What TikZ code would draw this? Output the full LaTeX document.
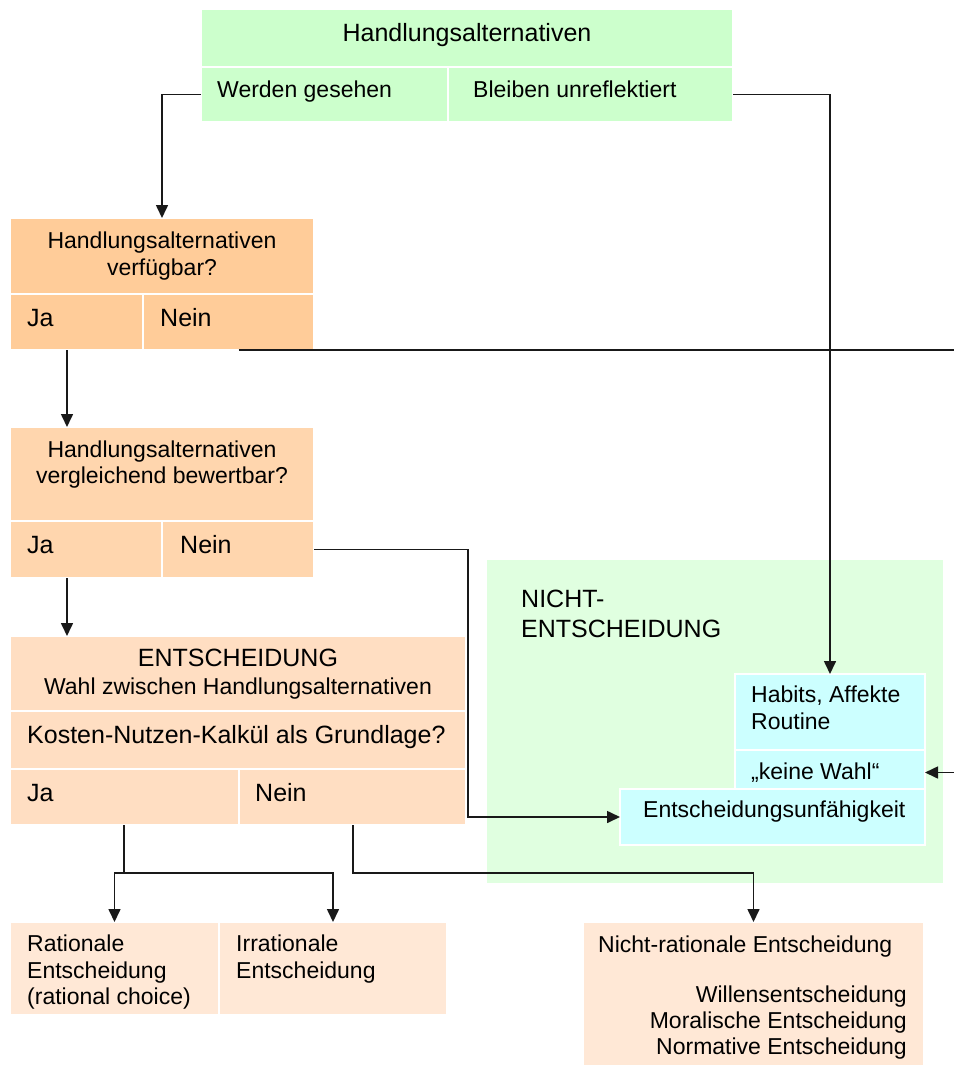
\documentclass[tikz,border=0pt]{standalone}
\usepackage{fontspec}
\setmainfont{Liberation Sans}
\usetikzlibrary{arrows.meta}

\definecolor{topGreen}{HTML}{CCFFCC}
\definecolor{zoneGreen}{HTML}{E0FFE0}
\definecolor{paleBlue}{HTML}{CCFFFF}
\definecolor{orangeA}{HTML}{FFCC99}
\definecolor{orangeB}{HTML}{FFD6AE}
\definecolor{orangeC}{HTML}{FFDEC2}
\definecolor{orangeD}{HTML}{FFE8D6}

% a filled cell given by its top-left and bottom-right corners
\newcommand\cellbox[6]{%
  \node[cell, fill=#2, minimum width={(#5)-(#3)}, minimum height={(#6)-(#4)}] (#1) at (#3,#4) {};}

\begin{document}
\begin{tikzpicture}[x=1pt, y=-1pt,
  cell/.style={draw=white, line width=1.5pt, outer sep=0pt, inner sep=0pt, anchor=north west},
  link/.style={line width=1.6pt, draw=black!90},
  arr/.style={link, -{Triangle[width=12pt,length=13pt]}},
  t/.style={inner sep=0pt, font=\fontsize{23}{27}\selectfont},
  tl/.style={inner sep=0pt, font=\fontsize{25}{30}\selectfont}]

\useasboundingbox (0,0) rectangle (953,1065);

% region of non-decisions
\node[fill=zoneGreen, inner sep=0pt, outer sep=0pt, anchor=north west,
      minimum width=456, minimum height=323] (zone) at (487,560) {};

% top block
\cellbox{title}{topGreen}{201}{9}{733}{67}
\cellbox{werden}{topGreen}{201}{67}{448}{122}
\cellbox{bleiben}{topGreen}{448}{67}{733}{122}

% first question
\cellbox{qa}{orangeA}{10}{218}{314}{294}
\cellbox{jaA}{orangeA}{10}{294}{143}{350}
\cellbox{neinA}{orangeA}{143}{294}{314}{350}

% second question
\cellbox{qb}{orangeB}{10}{427}{314}{521}
\cellbox{jaB}{orangeB}{10}{521}{162}{578}
\cellbox{neinB}{orangeB}{162}{521}{314}{578}

% decision block
\cellbox{head}{orangeC}{10}{636}{466}{711}
\cellbox{calc}{orangeC}{10}{711}{466}{769}
\cellbox{jaC}{orangeC}{10}{769}{239}{825}
\cellbox{neinC}{orangeC}{239}{769}{466}{825}

% non-decision cells
\cellbox{habits}{paleBlue}{735}{674}{925}{750}
\cellbox{keine}{paleBlue}{735}{750}{925}{795}
\cellbox{unfaehig}{paleBlue}{620}{789}{925}{845}

% outcomes
\cellbox{rational}{orangeD}{10}{922}{219}{1015}
\cellbox{irrational}{orangeD}{219}{922}{447}{1015}
\cellbox{nichtrat}{orangeD}{583}{922}{924}{1070}

% texts
\node[tl, anchor=base] (tTitle) at (467,42) {Handlungsalternativen};
\node[t, anchor=base west] (tWerden) at (217,97) {Werden gesehen};
\node[t, anchor=base west] (tBleiben) at (473,97) {Bleiben unreflektiert};

\node[t, anchor=base] (tQa1) at (162,248) {Handlungsalternativen};
\node[t, anchor=base] (tQa2) at (162,275) {verfügbar?};
\node[tl, anchor=base west] (tJaA) at (27,326) {Ja};
\node[tl, anchor=base west] (tNeinA) at (160,326) {Nein};

\node[t, anchor=base] (tQb1) at (162,457) {Handlungsalternativen};
\node[t, anchor=base] (tQb2) at (162,483) {vergleichend bewertbar?};
\node[tl, anchor=base west] (tJaB) at (27,553) {Ja};
\node[tl, anchor=base west] (tNeinB) at (180,553) {Nein};

\node[tl, anchor=base] (tHead1) at (238,666) {ENTSCHEIDUNG};
\node[t, anchor=base] (tHead2) at (238,694) {Wahl zwischen Handlungsalternativen};
\node[tl, anchor=base west] (tCalc) at (27,743) {Kosten-Nutzen-Kalkül als Grundlage?};
\node[tl, anchor=base west] (tJaC) at (27,801) {Ja};
\node[tl, anchor=base west] (tNeinC) at (255,801) {Nein};

\node[tl, anchor=base west] (tZone1) at (521,607) {NICHT-};
\node[tl, anchor=base west] (tZone2) at (521,637) {ENTSCHEIDUNG};

\node[t, anchor=base west] (tHab1) at (751,702) {Habits, Affekte};
\node[t, anchor=base west] (tHab2) at (751,729) {Routine};
\node[t, anchor=base west] (tKeine) at (751,779) {„keine Wahl“};
\node[t, anchor=base west] (tUnf) at (643,817) {Entscheidungsunfähigkeit};

\node[t, anchor=base west] (tRat1) at (27,951) {Rationale};
\node[t, anchor=base west] (tRat2) at (27,978) {Entscheidung};
\node[t, anchor=base west] (tRat3) at (27,1004) {(rational choice)};
\node[t, anchor=base west] (tIrr1) at (236,951) {Irrationale};
\node[t, anchor=base west] (tIrr2) at (236,978) {Entscheidung};

\node[t, anchor=base west] (tNr1) at (598,952) {Nicht-rationale Entscheidung};
\node[t, anchor=base east] (tNr2) at (907,1002) {Willensentscheidung};
\node[t, anchor=base east] (tNr3) at (907,1028) {Moralische Entscheidung};
\node[t, anchor=base east] (tNr4) at (907,1054) {Normative Entscheidung};

% helper points for the connectors
\coordinate (xJa) at (67,0);
\coordinate (xBend) at (468,0);
\coordinate (edge) at (958,350);
\coordinate (splitJa) at (124,873);
\coordinate (splitNein) at (353,873);

% connectors
\draw[arr] (werden.west) -| (qa.north);
\draw[arr] (bleiben.east) -| (habits.north);
\draw[link] ([xshift=10pt]neinA.south) -- (edge);
\draw[arr] (edge) |- (keine.east);
\draw[arr] (jaA.south -| xJa) -- (qb.north -| xJa);
\draw[arr] (jaB.south -| xJa) -- (head.north -| xJa);
\draw[arr] (neinB.east) -| (xBend |- unfaehig.west) -- (unfaehig.west);
\draw[link] (jaC.south -| splitJa) -- (splitJa);
\draw[arr] (splitJa) -| (rational.north);
\draw[arr] (splitJa) -| (irrational.north);
\draw[arr] (neinC.south -| splitNein) -- (splitNein) -| (nichtrat.north);

\end{tikzpicture}
\end{document}
